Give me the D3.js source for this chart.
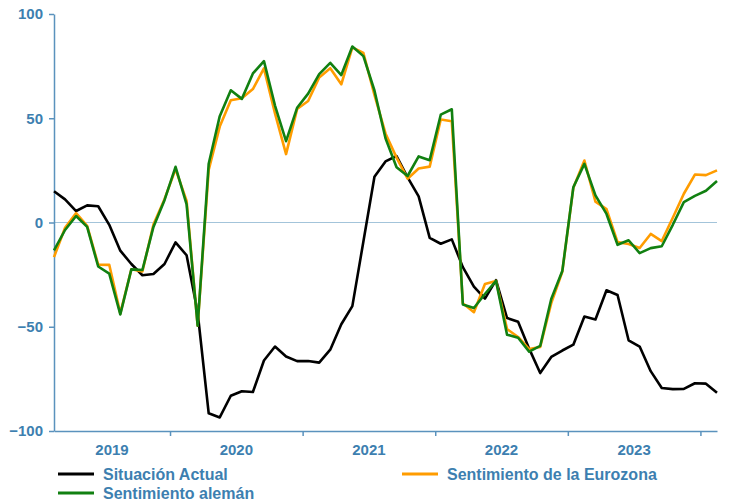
<!DOCTYPE html>
<html>
<head>
<meta charset="utf-8">
<script src="https://cdn.jsdelivr.net/npm/d3@7"></script>
<style>
  body { margin: 0; background: #fff; }
  text { font-family: "Liberation Sans", Arial, sans-serif; font-weight: bold; fill: #3d7fb0; }
</style>
</head>
<body>
<script>
// monthly data, Feb 2019 .. Feb 2024
var startYear = 2019, startMonth = 1; // Feb (0-based)

var situacion = [15.0, 11.1, 5.5, 8.2, 7.8, -1.1, -13.5, -19.9, -25.3, -24.7, -19.9,
  -9.5, -15.7, -43.1, -91.5, -93.5, -83.1, -80.9, -81.3, -66.2, -59.5, -64.3, -66.5,
  -66.4, -67.2, -61.0, -48.8, -40.1, -9.1, 21.9, 29.3, 31.9, 21.6, 12.5, -7.4,
  -10.2, -8.1, -21.4, -30.8, -36.5, -27.6, -45.8, -47.6, -60.5, -72.2, -64.5, -61.4,
  -58.6, -45.1, -46.5, -32.5, -34.8, -56.5, -59.5, -71.3, -79.4, -79.9, -79.8, -77.1,
  -77.3, -81.7];

var eurozona = [-16.6, -2.5, 4.5, -1.6, -20.2, -20.3, -43.6, -22.4, -23.5, -1.0, 11.2,
  25.6, 10.4, -49.5, 25.2, 46.0, 58.6, 59.6, 64.0, 73.9, 52.3, 32.8, 54.4,
  58.3, 69.6, 74.0, 66.3, 84.0, 81.3, 61.2, 42.7, 31.1, 21.0, 25.9, 26.8,
  49.4, 48.6, -38.7, -43.0, -29.5, -28.0, -51.1, -54.9, -60.7, -59.7, -38.7, -23.6,
  16.7, 29.7, 10.0, 6.4, -9.4, -10.3, -12.2, -5.5, -8.9, 2.3, 13.8, 23.0,
  22.7, 25.0];

var aleman = [-13.4, -3.6, 3.1, -2.1, -21.1, -24.5, -44.1, -22.5, -22.8, -2.1, 10.7,
  26.7, 8.7, -49.5, 28.2, 51.0, 63.4, 59.3, 71.5, 77.4, 56.1, 39.0, 55.0,
  61.8, 71.2, 76.6, 70.7, 84.4, 79.8, 63.3, 40.4, 26.5, 22.3, 31.7, 29.9,
  51.7, 54.3, -39.3, -41.0, -34.3, -28.0, -53.8, -55.3, -61.9, -59.2, -36.7, -23.3,
  16.9, 28.1, 13.0, 4.1, -10.7, -8.5, -14.7, -12.3, -11.4, -1.1, 9.8, 12.8,
  15.2, 19.9];

var yTicks = [-100, -50, 0, 50, 100];
var years = [2019, 2020, 2021, 2022, 2023];

var series = [
  { name: "Situación Actual", values: situacion, color: "#000000" },
  { name: "Sentimiento de la Eurozona", values: eurozona, color: "#ff9c00" },
  { name: "Sentimiento alemán", values: aleman, color: "#118011" }
];

var width = 736, height = 503;
var mLeft = 54, mRight = 717, mTop = 14, mBottom = 431;
var n = situacion.length;

var x = d3.scaleLinear().domain([0, n - 1]).range([mLeft, mRight]);
var y = d3.scaleLinear().domain([-100, 100]).range([mBottom, mTop]);

var svg = d3.select("body").append("svg")
    .attr("width", width)
    .attr("height", height);

// zero line
svg.append("line")
    .attr("x1", mLeft).attr("x2", mRight)
    .attr("y1", y(0)).attr("y2", y(0))
    .style("stroke", "#a3c4da")
    .style("stroke-width", 1.2);

// y axis
var yAxis = svg.append("g")
    .attr("transform", "translate(" + mLeft + ",0)")
    .call(d3.axisLeft(y).tickValues(yTicks).tickSizeInner(5).tickSizeOuter(0).tickPadding(6));
yAxis.selectAll("text").style("font-size", "15px");

// x axis: ticks at year boundaries, labels centred on the visible part of each year
var boundary = function(yr) { return (yr - startYear) * 12 - startMonth - 0.5; };
var xTicks = years.slice(1).concat([2024]).map(boundary).filter(function(v) { return v <= n - 1; });

svg.append("g")
    .attr("transform", "translate(0," + mBottom + ")")
    .call(d3.axisBottom(x).tickValues(xTicks).tickSizeInner(5).tickSizeOuter(0).tickFormat(""));

svg.selectAll(".domain, .tick line")
    .style("stroke", "#5a92bd")
    .style("stroke-width", 1.5);

svg.append("g").selectAll("text.year")
    .data(years)
    .enter().append("text")
    .attr("class", "year")
    .attr("x", function(d) {
        var a = Math.max(0, boundary(d)), b = Math.min(n - 1, boundary(d + 1));
        return (x(a) + x(b)) / 2;
    })
    .attr("y", mBottom + 24)
    .attr("text-anchor", "middle")
    .style("font-size", "15px")
    .text(function(d) { return d; });

// lines
var line = d3.line()
    .x(function(d, i) { return x(i); })
    .y(function(d) { return y(d); });

svg.append("g").selectAll("path.serie")
    .data(series)
    .enter().append("path")
    .attr("class", "serie")
    .attr("d", function(d) { return line(d.values); })
    .style("fill", "none")
    .style("stroke", function(d) { return d.color; })
    .style("stroke-width", 2.6)
    .style("stroke-linejoin", "round");

// legend
var legendPos = [[58, 474], [402, 474], [58, 493]];
var legend = svg.append("g").selectAll("g")
    .data(series)
    .enter().append("g")
    .attr("transform", function(d, i) { return "translate(" + legendPos[i] + ")"; });

legend.append("line")
    .attr("x1", 0).attr("x2", 36)
    .style("stroke", function(d) { return d.color; })
    .style("stroke-width", 3);

legend.append("text")
    .attr("x", 45)
    .attr("y", 6)
    .style("font-size", "16px")
    .text(function(d) { return d.name; });
</script>
</body>
</html>
